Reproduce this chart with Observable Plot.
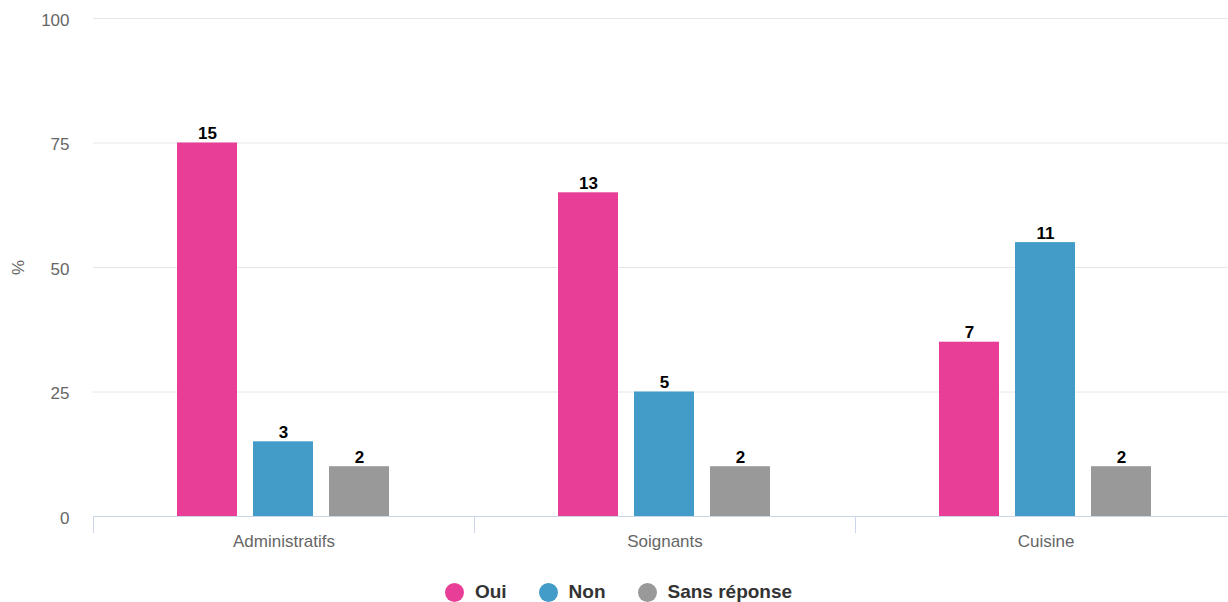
<!DOCTYPE html>
<html>
<head>
<meta charset="utf-8">
<script src="https://cdn.jsdelivr.net/npm/d3@7"></script>
<script src="https://cdn.jsdelivr.net/npm/@observablehq/plot@0.6"></script>
<style>
  html, body { margin: 0; padding: 0; background: #fff; overflow: hidden; }
  body { width: 1228px; height: 602px; font-family: "Liberation Sans", Arial, Helvetica, sans-serif; }
  #wrap { width: 1237px; }
  #legend { display: flex; justify-content: center; align-items: center; height: 26px; margin-top: 6px; font-weight: bold; font-size: 19px; color: #333; }
  .item { display: flex; align-items: center; margin: 0 16px; }
  .sw { width: 19px; height: 19px; border-radius: 50%; margin-right: 11px; }
</style>
</head>
<body>
<div id="wrap">
  <div id="chart"></div>
  <div id="legend"></div>
</div>
<script>
const categories = ["Administratifs", "Soignants", "Cuisine"];
const series = ["Oui", "Non", "Sans réponse"];
const colors = ["#e93e97", "#429cc7", "#999999"];
const ouiPct = [75, 65, 35];
const nonPct = [15, 25, 55];
const srPct = [10, 10, 10];
const ouiCount = [15, 13, 7];
const nonCount = [3, 5, 11];
const srCount = [2, 2, 2];
const yTicks = [0, 25, 50, 75, 100];

const pcts = [ouiPct, nonPct, srPct];
const counts = [ouiCount, nonCount, srCount];
const data = [];
categories.forEach((c, ci) => {
  series.forEach((s, si) => {
    data.push({category: c, series: s, pct: pcts[si][ci], count: counts[si][ci]});
  });
});

const font = '"Liberation Sans", Arial, Helvetica, sans-serif';
const chart = Plot.plot({
  width: 1237,
  height: 573,
  marginLeft: 92,
  marginRight: 0,
  marginTop: 18,
  marginBottom: 57,
  style: {fontFamily: font, background: "#fff", overflow: "visible"},
  fx: {domain: categories, padding: 0, label: null},
  x: {domain: series, paddingInner: 0.21, paddingOuter: 1.11, axis: null},
  y: {domain: [0, 100]},
  color: {domain: series, range: colors},
  marks: [
    Plot.gridY(yTicks, {stroke: "#e6e6e6", strokeOpacity: 1}),
    Plot.axisY(yTicks, {tickSize: 0, tickPadding: 24, fontSize: 17, fill: "#666", dy: 2,
      label: "%", labelAnchor: "center", labelArrow: "none", labelOffset: 82}),
    Plot.axisFx({anchor: "bottom", tickSize: 0, tickPadding: 18, fontSize: 17, fill: "#666", label: null}),
    Plot.frame({anchor: "bottom", stroke: "#ccd6eb", strokeOpacity: 1}),
    Plot.frame({anchor: "left", stroke: "#ccd6eb", strokeOpacity: 1, insetTop: 498, insetBottom: -16}),
    Plot.barY(data, {fx: "category", x: "series", y: "pct", fill: "series"}),
    Plot.text(data, {fx: "category", x: "series", y: "pct", text: "count", lineAnchor: "bottom", dy: -4,
      fontWeight: "bold", fontSize: 17, fill: "#000"})
  ]
});
document.getElementById("chart").appendChild(chart);

const legend = document.getElementById("legend");
series.forEach((s, i) => {
  const item = document.createElement("div");
  item.className = "item";
  const sw = document.createElement("span");
  sw.className = "sw";
  sw.style.background = colors[i];
  const t = document.createElement("span");
  t.textContent = s;
  item.appendChild(sw);
  item.appendChild(t);
  legend.appendChild(item);
});
</script>
</body>
</html>
